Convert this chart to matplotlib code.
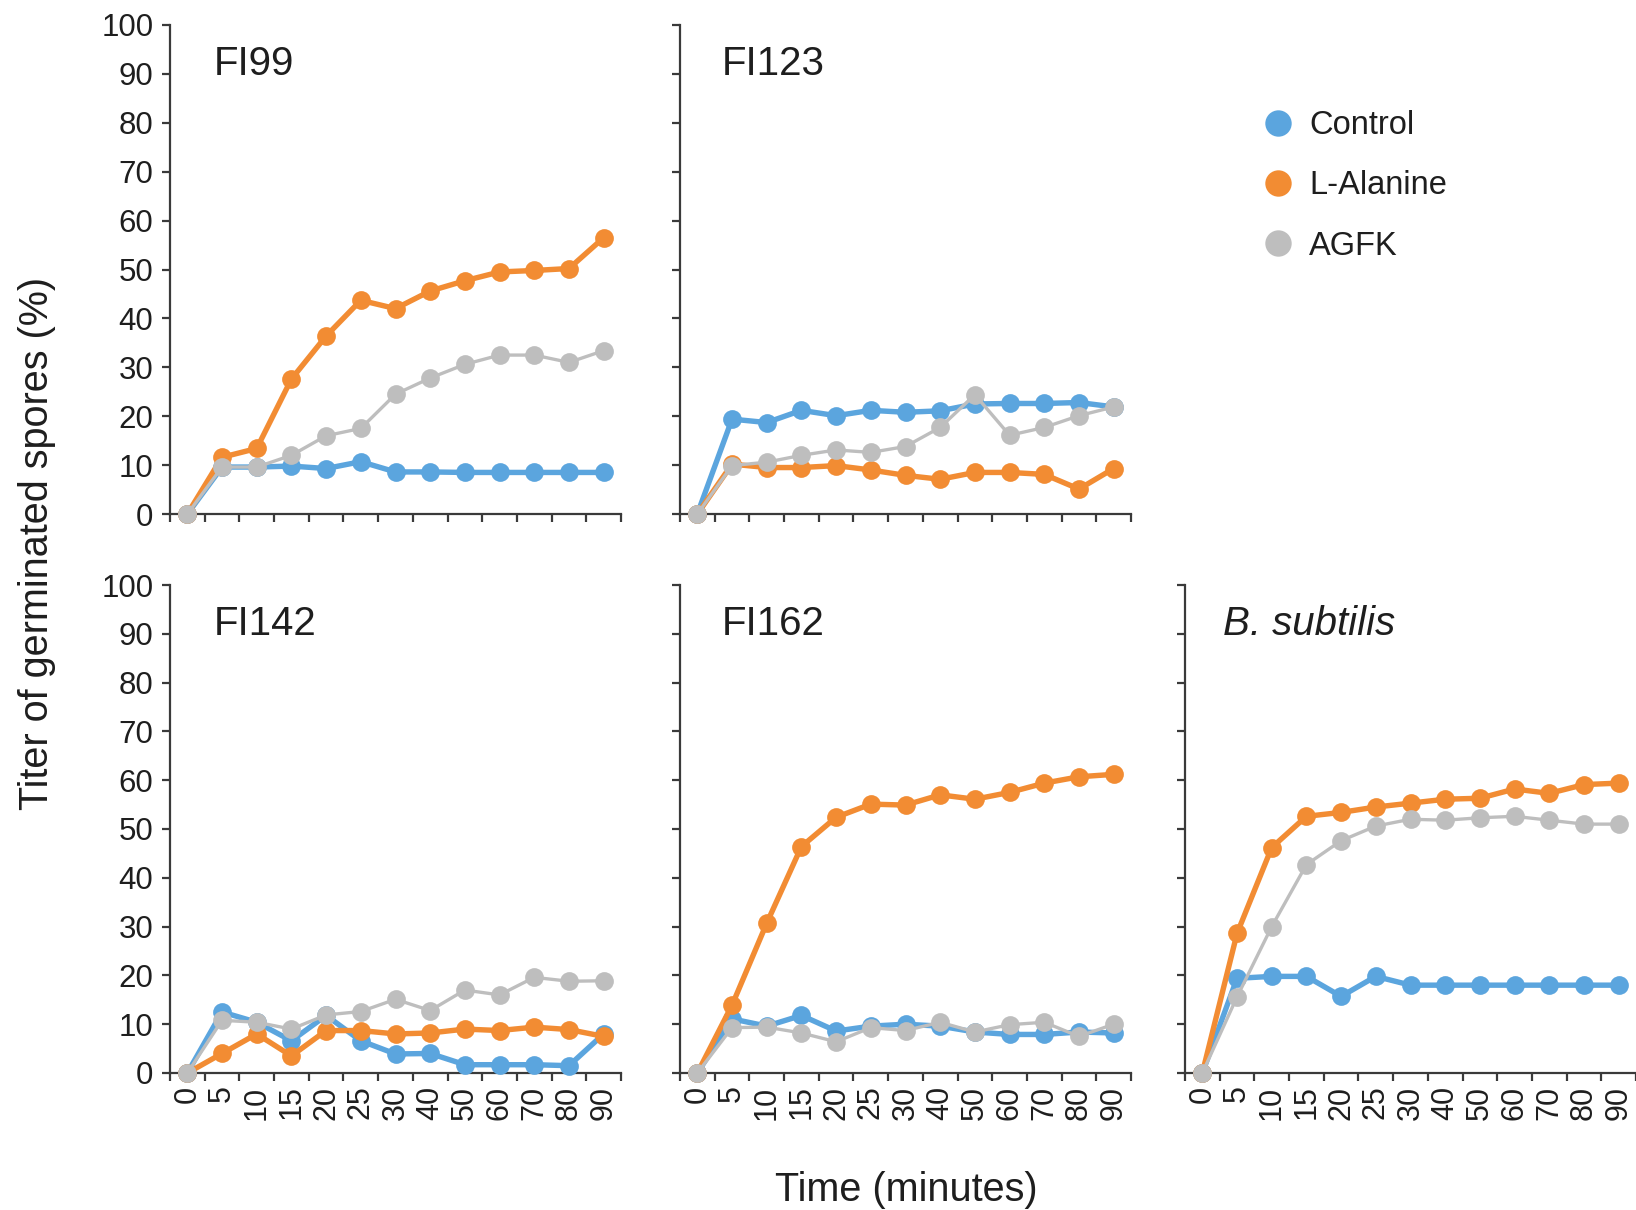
import matplotlib
matplotlib.use('Agg')
import matplotlib.pyplot as plt
from matplotlib.lines import Line2D
import numpy as np

plt.rcParams['font.family'] = ['Liberation Sans', 'DejaVu Sans']

# ---------------- data ----------------
time_labels = ['0', '5', '10', '15', '20', '25', '30', '40', '50', '60', '70', '80', '90']
series_names = ['Control', 'L-Alanine', 'AGFK']
panel_titles = ['FI99', 'FI123', 'FI142', 'FI162', 'B. subtilis']

fi99_control = [0, 9.6, 9.6, 9.8, 9.3, 10.7, 8.6, 8.6, 8.5, 8.5, 8.5, 8.5, 8.5]
fi99_alanine = [0, 11.6, 13.4, 27.6, 36.4, 43.7, 42.0, 45.6, 47.7, 49.5, 49.8, 50.2, 56.5]
fi99_agfk = [0, 9.6, 9.6, 12.0, 16.0, 17.5, 24.5, 27.8, 30.6, 32.5, 32.5, 31.0, 33.4]

fi123_control = [0, 19.4, 18.7, 21.2, 20.1, 21.2, 20.8, 21.1, 22.5, 22.6, 22.6, 22.8, 21.9]
fi123_alanine = [0, 10.2, 9.5, 9.5, 9.9, 9.0, 7.9, 7.1, 8.5, 8.5, 8.1, 5.1, 9.3]
fi123_agfk = [0, 9.9, 10.6, 12.0, 13.1, 12.6, 13.8, 17.7, 24.4, 16.1, 17.7, 20.1, 21.9]

fi142_control = [0, 12.5, 10.4, 6.6, 11.8, 6.6, 3.9, 4.0, 1.7, 1.7, 1.7, 1.5, 8.0]
fi142_alanine = [0, 4.0, 8.0, 3.5, 8.7, 8.7, 8.0, 8.2, 9.0, 8.7, 9.4, 8.9, 7.5]
fi142_agfk = [0, 10.8, 10.4, 9.0, 11.9, 12.6, 15.1, 12.8, 17.0, 16.0, 19.6, 18.8, 18.9]

fi162_control = [0, 11.1, 9.6, 11.8, 8.6, 9.6, 10.0, 9.6, 8.4, 7.9, 7.9, 8.4, 8.2]
fi162_alanine = [0, 13.9, 30.7, 46.4, 52.4, 55.1, 54.9, 57.0, 56.1, 57.5, 59.4, 60.7, 61.2]
fi162_agfk = [0, 9.3, 9.4, 8.2, 6.4, 9.3, 8.7, 10.4, 8.4, 9.9, 10.4, 7.5, 10.0]

bsub_control = [0, 19.4, 19.8, 19.8, 15.7, 19.8, 18.0, 18.0, 18.0, 18.0, 18.0, 18.0, 18.0]
bsub_alanine = [0, 28.6, 46.2, 52.6, 53.4, 54.5, 55.3, 56.1, 56.3, 58.2, 57.3, 59.1, 59.4]
bsub_agfk = [0, 15.6, 30.0, 42.7, 47.6, 50.6, 52.0, 51.8, 52.3, 52.6, 51.8, 51.0, 51.0]

# ---------------- styling ----------------
c_blue = '#5BA5DE'
c_orange = '#F28C33'
c_gray = '#BEBEBE'
spine_c = '#3a3a3a'
text_c = '#1e1e1e'

W, H = 1636, 1210
fig = plt.figure(figsize=(W / 100, H / 100), dpi=100)

col_left = [170, 680, 1185]
ax_w = 451
row_geom = [(25, 514), (585, 1073)]  # (top px, bottom px)

layout = [
    (0, 0, panel_titles[0], (fi99_control, fi99_alanine, fi99_agfk), 0.098, False),
    (0, 1, panel_titles[1], (fi123_control, fi123_alanine, fi123_agfk), 0.093, False),
    (1, 0, panel_titles[2], (fi142_control, fi142_alanine, fi142_agfk), 0.098, False),
    (1, 1, panel_titles[3], (fi162_control, fi162_alanine, fi162_agfk), 0.093, False),
    (1, 2, panel_titles[4], (bsub_control, bsub_alanine, bsub_agfk), 0.084, True),
]

x = np.arange(len(time_labels))
for row, col, title, (ctrl, ala, agfk), tx, italic in layout:
    top, bot = row_geom[row]
    ax = fig.add_axes([col_left[col] / W, 1 - bot / H, ax_w / W, (bot - top) / H])
    ax.plot(x, ctrl, color=c_blue, lw=3.9, marker='o', ms=13.5, mew=0,
            clip_on=False, zorder=3)
    ax.plot(x, ala, color=c_orange, lw=3.9, marker='o', ms=13.5, mew=0,
            clip_on=False, zorder=4)
    ax.plot(x, agfk, color=c_gray, lw=2.4, marker='o', ms=13.5, mew=0,
            clip_on=False, zorder=5)
    ax.set_xlim(-0.5, len(time_labels) - 0.5)
    ax.set_ylim(0, 100)
    ax.set_yticks(np.arange(0, 101, 10))
    ax.set_xticks(x)
    ax.set_xticks(np.arange(-0.5, len(time_labels), 1.0), minor=True)
    for s in ['top', 'right']:
        ax.spines[s].set_visible(False)
    for s in ['left', 'bottom']:
        ax.spines[s].set_color(spine_c)
        ax.spines[s].set_linewidth(1.6)
    ax.tick_params(axis='x', which='major', length=0, pad=9, labelsize=22,
                   labelrotation=90, labelcolor=text_c)
    ax.tick_params(axis='x', which='minor', length=6, width=1.6, color=spine_c,
                   direction='out')
    ax.tick_params(axis='y', which='major', length=6, width=1.6, color=spine_c,
                   pad=6, labelsize=22.5, labelcolor=text_c)
    if row == 1:
        ax.set_xticklabels(time_labels)
    else:
        ax.set_xticklabels([])
    if col != 0:
        ax.set_yticklabels([])
    ax.text(tx, 0.898, title, transform=ax.transAxes, fontsize=29, color=text_c,
            ha='left', va='baseline', style='italic' if italic else 'normal')

# legend
handles = [Line2D([], [], color=c, marker='o', ls='none', ms=19, mew=0)
           for c in (c_blue, c_orange, c_gray)]
fig.legend(handles, series_names, loc='upper left',
           bbox_to_anchor=(1262 / W, 1 - 110 / H), frameon=False,
           fontsize=23.5, labelspacing=0.9, handlelength=1.0, handletextpad=0.45,
           borderpad=0, borderaxespad=0, labelcolor=text_c)

fig.text(37 / W, 1 - 543 / H, 'Titer of germinated spores (%)', rotation=90,
         ha='center', va='center', fontsize=28.5, color=text_c)
fig.text(906 / W, 1 - 1190 / H, 'Time (minutes)', ha='center', va='center',
         fontsize=28.5, color=text_c)

fig.savefig('out.png', dpi=100)
